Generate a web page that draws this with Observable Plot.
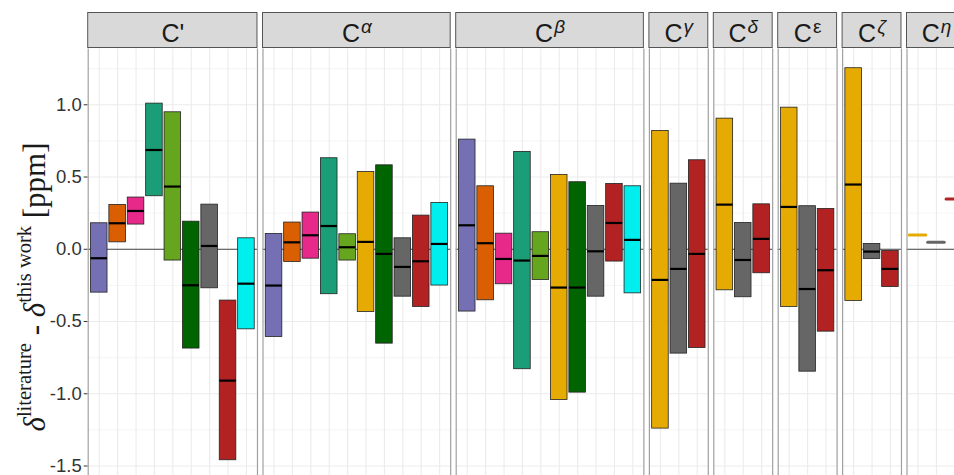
<!DOCTYPE html>
<html>
<head>
<meta charset="utf-8">
<script src="https://cdn.jsdelivr.net/npm/d3@7"></script>
<script src="https://cdn.jsdelivr.net/npm/@observablehq/plot@0.6"></script>
<style>
  body { margin: 0; background: #fff; }
  #chart { width: 954px; height: 475px; overflow: hidden; padding-top: 11.5px; box-sizing: border-box; }
  #chart svg { display: block; overflow: visible; }
</style>
</head>
<body>
<div id="chart"></div>
<script>
// Carbon positions (facet strips)
const groups = ["C'", "Cα", "Cβ", "Cγ", "Cδ", "Cε", "Cζ", "Cη"];

// Literature sources (1-based indices used in `members`)
const sources = ["ref 1", "ref 2", "ref 3", "ref 4", "ref 5", "ref 6", "ref 7", "ref 8", "ref 9", "ref 10"];

// Which sources report a value for each carbon
const members = [
  [1, 2, 3, 4, 5, 7, 8, 9, 10],
  [1, 2, 3, 4, 5, 6, 7, 8, 9, 10],
  [1, 2, 3, 4, 5, 6, 7, 8, 9, 10],
  [6, 8, 9],
  [6, 8, 9],
  [6, 8, 9],
  [6, 8, 9],
  [6, 8, 9]
];

// Upper end of the box [ppm]
const upper = [
  [0.18, 0.307, 0.358, 1.008, 0.948, 0.191, 0.309, -0.355, 0.076],
  [0.106, 0.185, 0.254, 0.63, 0.104, 0.535, 0.581, 0.076, 0.233, 0.321],
  [0.759, 0.436, 0.108, 0.674, 0.118, 0.514, 0.464, 0.30, 0.452, 0.436],
  [0.819, 0.454, 0.616],
  [0.904, 0.182, 0.311],
  [0.98, 0.298, 0.279],
  [1.253, 0.037, -0.012],
  [null, null, null]
];

// Centre value (drawn as the black bar) [ppm]
const median = [
  [-0.062, 0.18, 0.265, 0.687, 0.434, -0.249, 0.023, -0.909, -0.238],
  [-0.251, 0.048, 0.097, 0.161, 0.014, 0.051, -0.032, -0.122, -0.083, 0.037],
  [0.166, 0.042, -0.067, -0.078, -0.046, -0.265, -0.265, -0.014, 0.182, 0.065],
  [-0.212, -0.136, -0.032],
  [0.309, -0.074, 0.072],
  [0.293, -0.275, -0.145],
  [0.448, -0.016, -0.136],
  [0.099, 0.048, 0.348]
];

// Lower end of the box [ppm]
const lower = [
  [-0.30, 0.048, 0.171, 0.367, -0.078, -0.687, -0.27, -1.46, -0.554],
  [-0.607, -0.088, -0.065, -0.311, -0.078, -0.434, -0.653, -0.328, -0.399, -0.251],
  [-0.431, -0.353, -0.242, -0.83, -0.212, -1.043, -0.992, -0.328, -0.085, -0.305],
  [-1.241, -0.722, -0.683],
  [-0.284, -0.332, -0.166],
  [-0.399, -0.847, -0.57],
  [-0.358, -0.067, -0.261],
  [null, null, null]
];

const yMajor = [1.0, 0.5, 0.0, -0.5, -1.0, -1.5];
const yMinor = [1.25, 0.75, 0.25, -0.25, -0.75, -1.25];

// ---- layout (in slot units: one slot per source, like a discrete axis) ----
const palette = ["#7570B3", "#D95F02", "#E7298A", "#1B9E77", "#66A61E", "#E6AB02", "#006400", "#666666", "#B22222", "#00EEEE"];
const W = 954, ML = 87.7, slotPx = 18.4, expand = 0.6, gap = 0.3, barW = 0.9;

let cursor = 0;
const panels = groups.map((g, i) => {
  const n = members[i].length;
  const p = {group: g, x1: cursor, x2: cursor + n - 1 + 2 * expand};
  cursor = p.x2 + gap;
  return p;
});

const items = groups.flatMap((g, i) => members[i].map((s, j) => ({
  group: g,
  source: sources[s - 1],
  x: panels[i].x1 + expand + j,
  hi: upper[i][j],
  mid: median[i][j],
  lo: lower[i][j]
})));
const boxes = items.filter(d => d.hi != null);
const singles = items.filter(d => d.hi == null);

const xDomain = [0, (W - ML) / slotPx];
const xScale = {domain: xDomain, axis: null};

const gridMajor = panels.flatMap(p => yMajor.map(v => ({x1: p.x1, x2: p.x2, y: v})));
const gridMinor = panels.flatMap(p => yMinor.map(v => ({x1: p.x1, x2: p.x2, y: v})));

// ---- facet strips ----
const strip = Plot.plot({
  width: W, height: 36,
  marginLeft: ML, marginRight: 0, marginTop: 0.5, marginBottom: 0.5,
  x: xScale,
  style: {fontFamily: "'Liberation Sans', Arial, sans-serif", background: "white", overflow: "visible"},
  marks: [
    Plot.rect(panels, {x1: "x1", x2: "x2", fill: "#D9D9D9", stroke: "#555", strokeWidth: 1}),
    Plot.text(panels, {x: d => (d.x1 + d.x2) / 2, text: "group", fontSize: 25, dy: 3.5, fill: "#1a1a1a"})
  ]
});

// superscript the Greek letter of each strip label
d3.select(strip).selectAll('g[aria-label="text"] text').each(function () {
  const label = this.textContent;
  const sel = d3.select(this);
  if (label.length > 1 && label[1] !== "'") {
    sel.text(null);
    sel.append("tspan").text(label[0]);
    sel.append("tspan").attr("font-size", 19).attr("font-style", label[1] === "ε" ? "normal" : "italic")
      .attr("dx", 1).attr("dy", -9).text(label.slice(1));
  }
});

// ---- panels ----
const main = Plot.plot({
  width: W, height: 427.5,
  marginLeft: ML, marginRight: 0, marginTop: 0.5, marginBottom: 0,
  x: xScale,
  y: {domain: [-1.569, 1.386], ticks: yMajor, tickFormat: d => d.toFixed(1), tickSize: 4, tickPadding: 2.5, label: null},
  color: {domain: sources, range: palette},
  style: {fontFamily: "'Liberation Sans', Arial, sans-serif", fontSize: "18.5px", color: "#333", background: "white", overflow: "visible"},
  marks: [
    Plot.ruleY(gridMinor, {y: "y", x1: "x1", x2: "x2", stroke: "#F2F2F2", strokeWidth: 0.8}),
    Plot.ruleY(gridMajor, {y: "y", x1: "x1", x2: "x2", stroke: "#EBEBEB", strokeWidth: 1.1}),
    Plot.ruleX(items, {x: "x", stroke: "#EBEBEB", strokeWidth: 1.1}),
    Plot.ruleY(panels, {y: 0, x1: "x1", x2: "x2", stroke: "#333", strokeWidth: 0.9}),
    Plot.rect(boxes, {x1: d => d.x - barW / 2, x2: d => d.x + barW / 2, y1: "lo", y2: "hi", fill: "source", stroke: "#222", strokeWidth: 0.8}),
    Plot.ruleY(boxes, {y: "mid", x1: d => d.x - barW / 2, x2: d => d.x + barW / 2, stroke: "black", strokeWidth: 2.2}),
    Plot.ruleY(singles, {y: "mid", x1: d => d.x - barW / 2, x2: d => d.x + barW / 2, stroke: "source", strokeWidth: 3, strokeLinecap: "round"}),
    Plot.ruleX(panels, {x: "x1", stroke: "#A0A0A0", strokeWidth: 1.2}),
    Plot.ruleX(panels, {x: "x2", stroke: "#A0A0A0", strokeWidth: 1.2})
  ]
});

// y-axis title with superscripts
const title = d3.select(main).append("text")
  .attr("transform", "translate(45,239) rotate(-90)")
  .attr("text-anchor", "middle")
  .attr("font-family", "'Liberation Serif', 'DejaVu Serif', serif")
  .attr("font-size", 31)
  .attr("fill", "#1a1a1a")
  .style("white-space", "pre");
title.append("tspan").attr("font-style", "italic").text("δ");
title.append("tspan").attr("font-size", 20.5).attr("dy", -14).text("literature");
title.append("tspan").attr("dy", 14).text(" - ");
title.append("tspan").attr("font-style", "italic").text("δ");
title.append("tspan").attr("font-size", 20.5).attr("dy", -14).text("this work");
title.append("tspan").attr("dy", 14).text(" [ppm]");

const chart = document.getElementById("chart");
chart.append(strip, main);
</script>
</body>
</html>
